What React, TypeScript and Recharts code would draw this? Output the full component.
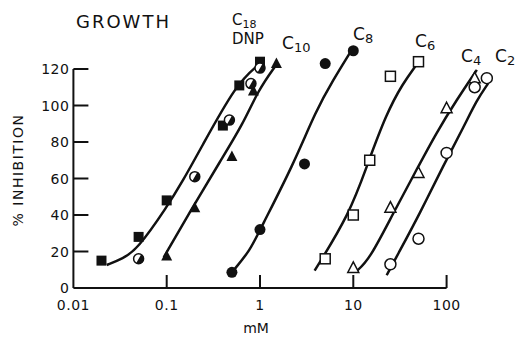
import React from 'react';
import { ComposedChart, XAxis, YAxis, Line, Scatter, ReferenceLine } from 'recharts';

// tick values
const xTicks = [0.01, 0.1, 1, 10, 100];
const xTickLabels = ['0.01', '0.1', '1', '10', '100'];
const yTicks = [0, 20, 40, 60, 80, 100, 120];

// measured points [mM, % inhibition]
const c18Points = [[0.02, 15], [0.05, 28], [0.1, 48], [0.4, 89], [0.6, 111], [1.0, 124]];
const dnpPoints = [[0.05, 16], [0.2, 61], [0.47, 92], [0.8, 112], [1.0, 120.5]];
const c10Points = [[0.1, 17.5], [0.2, 44], [0.5, 72], [0.85, 108], [1.5, 123]];
const c8Points = [[0.5, 8.6], [1.0, 32], [3, 68], [5, 123], [10, 130]];
const c6Points = [[5, 16], [10, 40], [15, 70], [25, 116], [50, 124]];
const c4Points = [[10, 11], [25, 44], [50, 63], [100, 98.5], [200, 115]];
const c2Points = [[25, 13], [50, 27], [100, 74], [200, 110], [270, 115]];

// fitted curves
const c18Curve = [[0.0228, 12.6], [0.034, 16.3], [0.0477, 20.8], [0.101, 44.5], [0.15, 59], [0.227, 75.6], [0.56, 112], [0.95, 122], [1.0, 123]];
const c10Curve = [[0.093, 16.8], [0.178, 41.8], [0.38, 70], [0.66, 90], [0.96, 108.5], [1.48, 122]];
const c8Curve = [[0.5, 8.6], [0.79, 20.8], [1.0, 32], [2.25, 67], [4.0, 97.5], [6.1, 114], [9.2, 128.8]];
const c6Curve = [[3.85, 9.5], [9.2, 41], [14, 67], [22.7, 95.7], [33.9, 112], [47, 122]];
const c4Curve = [[10.7, 9], [14.8, 15.3], [26.8, 41], [47.6, 64.7], [77.2, 84.8], [128, 103], [211, 119.5]];
const c2Curve = [[22.8, 7], [29, 17], [51.9, 41], [92, 67], [153, 88.4], [211, 103], [278, 112]];

const toXY = (arr: number[][]) => arr.map(([x, y]) => ({ x, y }));

const FONT = '"DejaVu Sans", "Liberation Sans", sans-serif';
const INK = '#111';

const filledSquare = (p: any) => <rect x={p.cx - 5} y={p.cy - 5} width={10} height={10} fill={INK} />;
const openSquare = (p: any) => (
  <rect x={p.cx - 5} y={p.cy - 5} width={10} height={10} fill="#fff" stroke={INK} strokeWidth={1.5} />
);
const filledCircle = (p: any) => <circle cx={p.cx} cy={p.cy} r={5.5} fill={INK} />;
const openCircle = (p: any) => <circle cx={p.cx} cy={p.cy} r={5.5} fill="#fff" stroke={INK} strokeWidth={1.5} />;
const filledTriangle = (p: any) => (
  <polygon points={`${p.cx},${p.cy - 6} ${p.cx + 5.5},${p.cy + 4.5} ${p.cx - 5.5},${p.cy + 4.5}`} fill={INK} />
);
const openTriangle = (p: any) => (
  <polygon
    points={`${p.cx},${p.cy - 6} ${p.cx + 5.5},${p.cy + 4.5} ${p.cx - 5.5},${p.cy + 4.5}`}
    fill="#fff"
    stroke={INK}
    strokeWidth={1.5}
  />
);
const halfCircle = (p: any) => {
  const r = 5;
  const a = (-60 * Math.PI) / 180;
  const x1 = p.cx + r * Math.cos(a);
  const y1 = p.cy + r * Math.sin(a);
  const x2 = p.cx - r * Math.cos(a);
  const y2 = p.cy - r * Math.sin(a);
  return (
    <g>
      <circle cx={p.cx} cy={p.cy} r={r} fill="#fff" stroke={INK} strokeWidth={1.5} />
      <path d={`M${x1},${y1} A${r},${r} 0 0 1 ${x2},${y2} Z`} fill={INK} />
    </g>
  );
};

const XTick = (props: any) => {
  const { x, y, payload, index } = props;
  return (
    <g>
      {index > 0 && <line x1={x} y1={y} x2={x} y2={y - 13} stroke={INK} strokeWidth={2} />}
      <text x={x} y={y + 22} textAnchor="middle" fontSize={14} fontFamily={FONT} fill={INK} letterSpacing={0.5}>
        {xTickLabels[xTicks.indexOf(payload.value)]}
      </text>
    </g>
  );
};

const YTick = (props: any) => {
  const { x, y, payload } = props;
  return (
    <g>
      {payload.value > 0 && <line x1={x} y1={y} x2={x + 15} y2={y} stroke={INK} strokeWidth={2} />}
      <text x={x - 4} y={y + 5} textAnchor="end" fontSize={14} fontFamily={FONT} fill={INK} letterSpacing={0.5}>
        {payload.value}
      </text>
    </g>
  );
};

const curves = [c18Curve, c10Curve, c8Curve, c6Curve, c4Curve, c2Curve];
const series = [
  { pts: c18Points, shape: filledSquare },
  { pts: c10Points, shape: filledTriangle },
  { pts: dnpPoints, shape: halfCircle },
  { pts: c8Points, shape: filledCircle },
  { pts: c6Points, shape: openSquare },
  { pts: c4Points, shape: openTriangle },
  { pts: c2Points, shape: openCircle },
];

const Label = ({ x, y, main, sub, size = 17 }: any) => (
  <text x={x} y={y} fontSize={size} fontFamily={FONT} fill={INK}>
    {main}
    {sub && (
      <tspan fontSize={size - 4} dy={3}>
        {sub}
      </tspan>
    )}
  </text>
);

export default function App() {
  return (
    <div style={{ position: 'absolute', left: 0, top: 0, width: 516, height: 337, background: '#fff' }}>
      <ComposedChart width={516} height={337} margin={{ top: 32.5, right: 4.2, bottom: 19, left: 13.4 }}>
        <XAxis
          dataKey="x"
          type="number"
          scale="log"
          domain={[0.01, 500]}
          allowDataOverflow
          ticks={xTicks}
          interval={0}
          axisLine={false}
          tickLine={false}
          tickSize={0}
          tickMargin={0}
          height={30}
          tick={<XTick />}
        />
        <YAxis
          type="number"
          domain={[0, 140]}
          allowDataOverflow
          ticks={yTicks}
          interval={0}
          axisLine={false}
          tickLine={false}
          tickSize={0}
          tickMargin={0}
          width={60}
          tick={<YTick />}
        />
        <ReferenceLine segment={[{ x: 0.01, y: 0 }, { x: 0.01, y: 120 }]} stroke={INK} strokeWidth={2} />
        <ReferenceLine segment={[{ x: 0.01, y: 0 }, { x: 100, y: 0 }]} stroke={INK} strokeWidth={2} />
        {curves.map((c, i) => (
          <Line
            key={`curve-${i}`}
            data={toXY(c)}
            dataKey="y"
            type="basis"
            stroke={INK}
            strokeWidth={2.5}
            dot={false}
            activeDot={false}
            isAnimationActive={false}
          />
        ))}
        {series.map((s, i) => (
          <Scatter key={`pts-${i}`} data={toXY(s.pts)} dataKey="y" shape={s.shape} isAnimationActive={false} />
        ))}
      </ComposedChart>
      <svg width={516} height={337} style={{ position: 'absolute', left: 0, top: 0, pointerEvents: 'none' }}>
        <text x={76} y={28} fontSize={18} fontFamily={FONT} fill={INK} letterSpacing={2}>
          GROWTH
        </text>
        <text
          x={23}
          y={170}
          transform="rotate(-90 23 170)"
          textAnchor="middle"
          fontSize={14}
          fontFamily={FONT}
          fill={INK}
          letterSpacing={1.5}
        >
          % INHIBITION
        </text>
        <text x={256} y={333} textAnchor="middle" fontSize={14} fontFamily={FONT} fill={INK}>
          mM
        </text>
        <Label x={232} y={25} main="C" sub="18" size={15} />
        <text x={232} y={44} fontSize={15} fontFamily={FONT} fill={INK}>
          DNP
        </text>
        <Label x={282} y={49} main="C" sub="10" />
        <Label x={353} y={40} main="C" sub="8" />
        <Label x={415} y={47} main="C" sub="6" />
        <Label x={461} y={62} main="C" sub="4" />
        <Label x={495} y={62} main="C" sub="2" />
      </svg>
    </div>
  );
}
